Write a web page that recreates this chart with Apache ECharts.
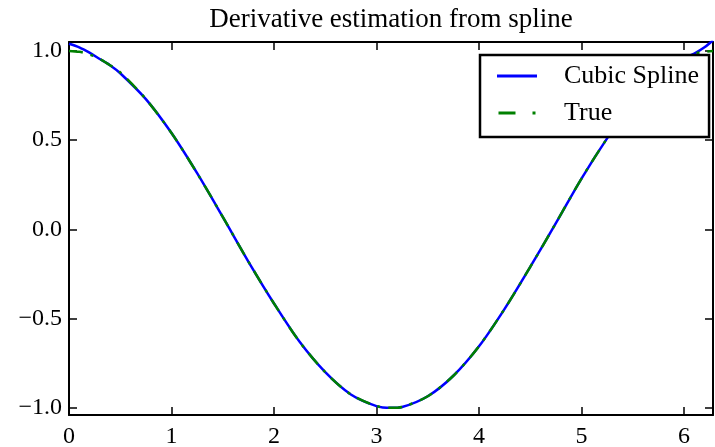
<!DOCTYPE html>
<html>
<head>
<meta charset="utf-8">
<script src="https://cdn.jsdelivr.net/npm/echarts@6/dist/echarts.min.js"></script>
<style>
  html, body { margin: 0; padding: 0; background: #fff; }
  #chart { width: 715px; height: 447px; }
</style>
</head>
<body>
<div id="chart"></div>
<script>
  // values
  var xs = [0, 0.1, 0.2, 0.3, 0.4, 0.5, 0.75, 1.0, 1.25, 1.5, 1.75, 2.0, 2.25, 2.5, 2.75, 3.0, 3.14,
    3.25, 3.5, 3.75, 4.0, 4.25, 4.5, 4.75, 5.0, 5.25, 5.5, 5.75, 5.9, 6.0, 6.1, 6.2, 6.283];
  var splineVals = [1.04, 1.02, 0.99, 0.955, 0.92, 0.875, 0.73, 0.54, 0.315, 0.07, -0.18, -0.415, -0.63, -0.80,
    -0.925, -0.99, -1.0, -0.995, -0.935, -0.82, -0.655, -0.445, -0.21, 0.035, 0.285, 0.51, 0.71, 0.86,
    0.93, 0.96, 0.985, 1.02, 1.06];
  var trueVals = [1.0, 0.995, 0.98, 0.955, 0.92, 0.88, 0.73, 0.54, 0.315, 0.07, -0.18, -0.415, -0.63, -0.80,
    -0.925, -0.99, -1.0, -0.995, -0.935, -0.82, -0.655, -0.445, -0.21, 0.035, 0.285, 0.51, 0.71, 0.86,
    0.925, 0.96, 0.985, 0.995, 1.0];
  var xTicks = [0, 1, 2, 3, 4, 5, 6];
  var yTicks = [-1.0, -0.5, 0.0, 0.5, 1.0];

  function pairs(ys) {
    var out = [];
    for (var i = 0; i < xs.length; i++) {
      out.push([xs[i], ys[i]]);
    }
    return out;
  }

  var font = 'Liberation Serif';
  var axisLine = { show: true, onZero: false, lineStyle: { color: '#000', width: 2 } };
  function ticks(vals) {
    return { show: true, inside: true, length: 8, customValues: vals, lineStyle: { color: '#000', width: 1.5 } };
  }

  var chart = echarts.init(document.getElementById('chart'));
  chart.setOption({
    animation: false,
    backgroundColor: '#fff',
    title: {
      text: 'Derivative estimation from spline',
      left: 391,
      textAlign: 'center',
      top: 6,
      padding: 0,
      textStyle: { fontFamily: font, fontSize: 27, fontWeight: 'normal', color: '#000' }
    },
    legend: {
      left: 480,
      top: 55,
      orient: 'vertical',
      backgroundColor: '#fff',
      borderColor: '#000',
      borderWidth: 2.5,
      borderRadius: 0,
      padding: [8, 10, 11, 17],
      itemGap: 11,
      itemWidth: 40,
      itemHeight: 3,
      textStyle: { fontFamily: font, fontSize: 26, color: '#000', padding: [0, 0, 0, 22] },
      data: [
        { name: 'Cubic Spline', icon: 'path://M0,0H40V3H0Z' },
        { name: 'True', icon: 'path://M0,0H17V3H0Z M34,0H37V3H34Z' }
      ]
    },
    grid: { left: 69, right: 2, top: 42, bottom: 32, outerBoundsMode: 'none', containLabel: false },
    xAxis: [{
      type: 'value',
      min: 0,
      max: 6.283,
      axisLine: axisLine,
      axisTick: ticks(xTicks),
      splitLine: { show: false },
      axisLabel: {
        margin: 10,
        customValues: xTicks,
        fontFamily: font, fontSize: 24, color: '#000'
      }
    }, {
      type: 'value',
      position: 'top',
      min: 0,
      max: 6.283,
      axisLine: axisLine,
      axisTick: ticks(xTicks),
      splitLine: { show: false },
      axisLabel: { show: false }
    }],
    yAxis: [{
      type: 'value',
      min: -1.04,
      max: 1.05,
      axisLine: axisLine,
      axisTick: ticks(yTicks),
      splitLine: { show: false },
      axisLabel: {
        margin: 7,
        customValues: yTicks,
        fontFamily: font, fontSize: 24, color: '#000',
        formatter: function (v) {
          return v.toFixed(1).replace('-', '\u2212');
        }
      }
    }, {
      type: 'value',
      position: 'right',
      min: -1.04,
      max: 1.05,
      axisLine: axisLine,
      axisTick: ticks(yTicks),
      splitLine: { show: false },
      axisLabel: { show: false }
    }],
    series: [{
      name: 'Cubic Spline',
      type: 'line',
      data: pairs(splineVals),
      smooth: 0.3,
      symbol: 'none',
      clip: true,
      lineStyle: { color: '#0000ff', width: 2.5 },
      itemStyle: { color: '#0000ff' },
      z: 2
    }, {
      name: 'True',
      type: 'line',
      data: pairs(trueVals),
      smooth: 0.3,
      symbol: 'none',
      clip: true,
      lineStyle: { color: '#008000', width: 2.5, type: [14, 8, 3, 8] },
      itemStyle: { color: '#008000' },
      z: 3
    }]
  });
</script>
</body>
</html>
